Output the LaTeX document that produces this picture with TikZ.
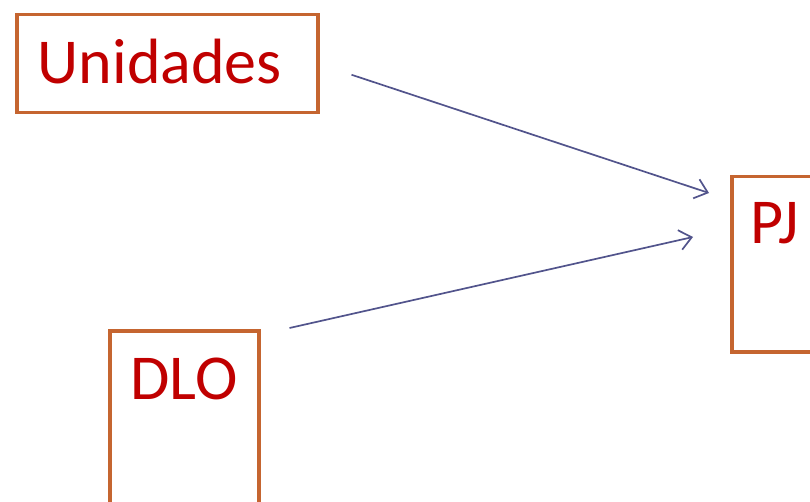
\documentclass[tikz,border=0pt]{standalone}
\usepackage{fontspec}
\setmainfont{Carlito}
\usetikzlibrary{arrows.meta,calc}
\definecolor{boxline}{RGB}{197,101,48}
\definecolor{boxtext}{RGB}{192,0,0}
\definecolor{arrowline}{RGB}{82,84,140}

\begin{document}
\begin{tikzpicture}[x=1pt,y=-1pt,
	main_box/.style={draw=boxline,line width=3.5pt,inner sep=0pt,text=boxtext,
		font=\fontsize{64}{70}\selectfont},
	main_arrow/.style={draw=arrowline,line width=1.7pt,
		-{Straight Barb[length=12pt,width=20pt,line width=1.7pt]}}]

		\useasboundingbox (0,0) rectangle (810,502);
		\clip (0,0) rectangle (810,502);

		\node[main_box,anchor=north west,minimum width=301pt,text height=69pt,text depth=29pt,
			inner xsep=21pt,text width=259pt,align=left] (unidades) at (15,13) {Unidades};
		\node[main_box,anchor=north west,minimum width=149pt,text height=69pt,text depth=202pt] (dlo) at (108,329) {DLO};
		\node[main_box,anchor=north west,minimum width=86pt,text height=67pt,text depth=108pt] (pj) at (730,175) {PJ};

		\draw[main_arrow] ($(unidades.east)+(32,11)$) -- ($(pj.north west)+(-21,18)$);
		\draw[main_arrow] ($(dlo.north east)+(29,-1)$) -- ($(pj.north west)+(-37,62)$);
		\end{tikzpicture}
\end{document}
